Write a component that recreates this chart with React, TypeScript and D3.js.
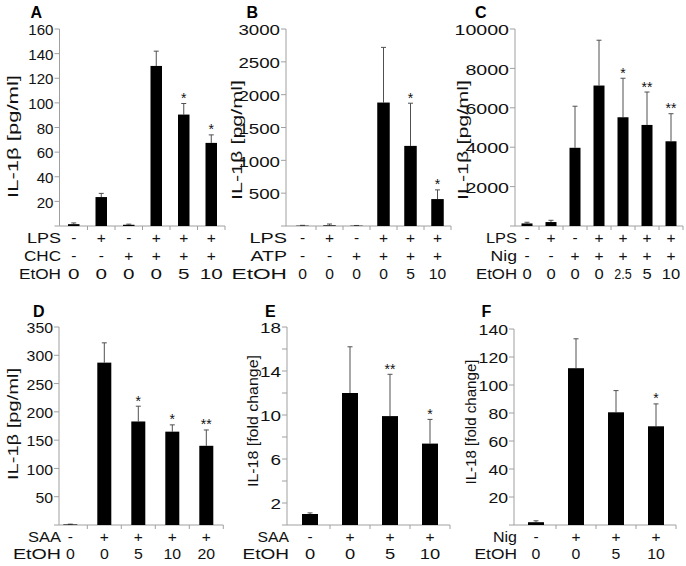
import React from "react";
import * as d3 from "d3";

// ---------- DATA ----------
const aTicks = [20, 40, 60, 80, 100, 120, 140, 160];
const aValues = [1.5, 23.5, 1, 130, 90.5, 67.5];
const aErrors = [1, 3, 0.5, 12, 9, 6.5];
const aStars = ["", "", "", "", "*", "*"];
const aRowNames = ["LPS", "CHC", "EtOH"];
const aLPS = ["-", "+", "-", "+", "+", "+"];
const aCHC = ["-", "-", "+", "+", "+", "+"];
const aEtOH = ["0", "0", "0", "0", "5", "10"];

const bTicks = [500, 1000, 1500, 2000, 2500, 3000];
const bValues = [5, 10, 5, 1880, 1220, 410];
const bErrors = [5, 20, 3, 840, 650, 140];
const bStars = ["", "", "", "", "*", "*"];
const bRowNames = ["LPS", "ATP", "EtOH"];
const bLPS = ["-", "+", "-", "+", "+", "+"];
const bATP = ["-", "-", "+", "+", "+", "+"];
const bEtOH = ["0", "0", "0", "0", "5", "10"];

const cTicks = [2000, 4000, 6000, 8000, 10000];
const cValues = [130, 200, 3970, 7130, 5520, 5130, 4300];
const cErrors = [60, 90, 2110, 2300, 1980, 1670, 1400];
const cStars = ["", "", "", "", "*", "**", "**"];
const cRowNames = ["LPS", "Nig", "EtOH"];
const cLPS = ["-", "+", "-", "+", "+", "+", "+"];
const cNig = ["-", "-", "+", "+", "+", "+", "+"];
const cEtOH = ["0", "0", "0", "0", "2.5", "5", "10"];

const dTicks = [50, 100, 150, 200, 250, 300, 350];
const dValues = [1, 287, 183, 165, 140];
const dErrors = [0.5, 35, 27, 12, 28];
const dStars = ["", "", "*", "*", "**"];
const dRowNames = ["SAA", "EtOH"];
const dSAA = ["-", "+", "+", "+", "+"];
const dEtOH = ["0", "0", "5", "10", "20"];

const eTicks = [2, 6, 10, 14, 18];
const eMinorTicks = [4, 8, 12, 16];
const eValues = [1, 12, 9.9, 7.4];
const eErrors = [0.1, 4.2, 3.8, 2.2];
const eStars = ["", "", "**", "*"];
const eRowNames = ["SAA", "EtOH"];
const eSAA = ["-", "+", "+", "+"];
const eEtOH = ["0", "0", "5", "10"];

const fTicks = [20, 40, 60, 80, 100, 120, 140];
const fValues = [2, 112, 80.5, 70.5];
const fErrors = [1, 21, 15.5, 16];
const fStars = ["", "", "", "*"];
const fRowNames = ["Nig", "EtOH"];
const fNig = ["-", "+", "+", "+"];
const fEtOH = ["0", "0", "5", "10"];

// ---------- STYLE ----------
const FONT = "'Liberation Sans', Arial, sans-serif";
const FS = 15.5;
const AXIS = "#a0a0a0";
const ERR = "#505050";

function digitLen(s: string, w: number) {
  const digits = s.replace(/[^0-9]/g, "").length;
  const dots = s.replace(/[^.]/g, "").length;
  if (dots) return (digits * 0.8 + dots * 0.3) * w;
  return digits * w;
}

type PanelProps = {
  letter: string;
  letterX: number;
  letterY: number;
  axisX: number;
  xRange: [number, number];
  yBottom: number;
  yTop: number;
  yMax: number;
  ticks: number[];
  minorTicks?: number[];
  tickDigitW: number;
  values: number[];
  errors: number[];
  stars: string[];
  barWidth: number;
  rowNames: string[];
  rowNameLens: number[];
  rowDigitW: number;
  rows: string[][];
  rowBaselines: number[];
  rowEndX: number;
  yLabel: string;
  yLabelLen: number;
  yLabelX: number;
  yLabelY: number;
};

function Panel(p: PanelProps) {
  const n = p.values.length;
  const x = d3.scaleBand<number>().domain(d3.range(n)).range(p.xRange).padding(0);
  const y = d3.scaleLinear().domain([0, p.yMax]).range([p.yBottom, p.yTop]);
  const step = x.step();
  const allTicks = [0, ...p.ticks, ...(p.minorTicks || [])];
  const cap = 2.5;
  return (
    <g>
      <text x={p.letterX} y={p.letterY} fontFamily={FONT} fontWeight="bold" fontSize={16} fill="#000">
        {p.letter}
      </text>
      {/* y axis */}
      <line x1={p.axisX} x2={p.axisX} y1={y(p.yMax)} y2={y(0)} stroke={AXIS} strokeWidth={1} />
      {allTicks.map((t, i) => (
        <line key={"t" + i} x1={p.axisX - 5} x2={p.axisX} y1={y(t)} y2={y(t)} stroke={AXIS} strokeWidth={1} />
      ))}
      {p.ticks.map((t, i) => (
        <text
          key={"l" + i}
          x={p.axisX - 6}
          y={y(t)}
          dy="0.4em"
          textAnchor="end"
          fontFamily={FONT}
          fontSize={FS}
          fill="#111"
          textLength={digitLen(String(t), p.tickDigitW)}
          lengthAdjust="spacingAndGlyphs"
        >
          {String(t)}
        </text>
      ))}
      {/* x axis */}
      <line x1={p.axisX} x2={p.xRange[1]} y1={y(0)} y2={y(0)} stroke={AXIS} strokeWidth={1} />
      {d3.range(1, n + 1).map((i) => {
        const bx = p.xRange[0] + i * step;
        return <line key={"xt" + i} x1={bx} x2={bx} y1={y(0)} y2={y(0) + 4} stroke={AXIS} strokeWidth={1} />;
      })}
      {/* bars */}
      {p.values.map((v, i) => {
        const cx = (x(i) as number) + step / 2;
        const top = y(v);
        const et = y(v + p.errors[i]);
        return (
          <g key={"b" + i}>
            <line x1={cx} x2={cx} y1={top} y2={et} stroke={ERR} strokeWidth={1} />
            <line x1={cx - cap} x2={cx + cap} y1={et} y2={et} stroke={ERR} strokeWidth={1} />
            <rect x={cx - p.barWidth / 2} y={top} width={p.barWidth} height={y(0) - top} fill="#000" />
            {p.stars[i] ? (
              <text x={cx} y={et - 0.5} textAnchor="middle" fontFamily={FONT} fontSize={14} fill="#111">
                {p.stars[i]}
              </text>
            ) : null}
          </g>
        );
      })}
      {/* y label */}
      <text
        transform={`translate(${p.yLabelX},${p.yLabelY}) rotate(-90)`}
        textAnchor="middle"
        fontFamily={FONT}
        fontSize={FS}
        fill="#111"
        textLength={p.yLabelLen}
        lengthAdjust="spacingAndGlyphs"
      >
        {p.yLabel}
      </text>
      {/* condition rows */}
      {p.rowNames.map((name, r) => (
        <g key={"r" + r}>
          <text
            x={p.rowEndX}
            y={p.rowBaselines[r]}
            textAnchor="end"
            fontFamily={FONT}
            fontSize={FS}
            fill="#111"
            textLength={p.rowNameLens[r]}
            lengthAdjust="spacingAndGlyphs"
          >
            {name}
          </text>
          {p.rows[r].map((s, i) => {
            const isNum = /[0-9]/.test(s);
            return (
              <text
                key={i}
                x={(x(i) as number) + step / 2}
                y={p.rowBaselines[r]}
                textAnchor="middle"
                fontFamily={FONT}
                fontSize={FS}
                fill="#111"
                textLength={isNum ? digitLen(s, p.rowDigitW) : undefined}
                lengthAdjust={isNum ? "spacingAndGlyphs" : undefined}
              >
                {s}
              </text>
            );
          })}
        </g>
      ))}
    </g>
  );
}

export default function App() {
  const topRows = [243.3, 261, 278.5];
  const botRows = [541.7, 559.3];
  return (
    <div style={{ position: "fixed", left: 0, top: 0, width: 686, height: 566, background: "#fff" }}>
      <svg width={686} height={566} viewBox="0 0 686 566" style={{ display: "block" }}>
        <rect width={686} height={566} fill="#fff" />
        <Panel
          letter="A" letterX={30.5} letterY={17.5}
          axisX={59.5} xRange={[60, 225]} yBottom={226} yTop={29} yMax={160}
          ticks={aTicks} tickDigitW={8.4} values={aValues} errors={aErrors} stars={aStars} barWidth={11.5}
          rowNames={aRowNames} rowNameLens={[34, 37, 42]} rowDigitW={11.5}
          rows={[aLPS, aCHC, aEtOH]} rowBaselines={topRows} rowEndX={61}
          yLabel="IL-1β [pg/ml]" yLabelLen={123} yLabelX={18} yLabelY={136.5}
        />
        <Panel
          letter="B" letterX={246.5} letterY={17.5}
          axisX={286} xRange={[289, 451]} yBottom={226} yTop={29} yMax={3000}
          ticks={bTicks} tickDigitW={10.4} values={bValues} errors={bErrors} stars={bStars} barWidth={12.5}
          rowNames={bRowNames} rowNameLens={[37.5, 36.5, 55.5]} rowDigitW={8.7}
          rows={[bLPS, bATP, bEtOH]} rowBaselines={topRows} rowEndX={287}
          yLabel="IL-1β [pg/ml]" yLabelLen={120} yLabelX={241.5} yLabelY={140}
        />
        <Panel
          letter="C" letterX={475} letterY={17.5}
          axisX={515} xRange={[515, 683]} yBottom={226} yTop={29} yMax={10000}
          ticks={cTicks} tickDigitW={10.9} values={cValues} errors={cErrors} stars={cStars} barWidth={11}
          rowNames={cRowNames} rowNameLens={[31, 26.5, 41]} rowDigitW={9.2}
          rows={[cLPS, cNig, cEtOH]} rowBaselines={topRows} rowEndX={517}
          yLabel="IL-1β [pg/ml]" yLabelLen={120} yLabelX={468} yLabelY={140}
        />
        <Panel
          letter="D" letterX={33} letterY={316.5}
          axisX={59} xRange={[53.3, 223.3]} yBottom={525} yTop={327} yMax={350}
          ticks={dTicks} tickDigitW={8.8} values={dValues} errors={dErrors} stars={dStars} barWidth={14}
          rowNames={dRowNames} rowNameLens={[33, 48]} rowDigitW={8.8}
          rows={[dSAA, dEtOH]} rowBaselines={botRows} rowEndX={61}
          yLabel="IL-1β [pg/ml]" yLabelLen={112} yLabelX={18} yLabelY={424}
        />
        <Panel
          letter="E" letterX={265} letterY={316.5}
          axisX={287} xRange={[290, 450]} yBottom={525} yTop={327} yMax={18}
          ticks={eTicks} minorTicks={eMinorTicks} tickDigitW={10.5} values={eValues} errors={eErrors} stars={eStars} barWidth={16}
          rowNames={eRowNames} rowNameLens={[31.5, 46.5]} rowDigitW={10.2}
          rows={[eSAA, eEtOH]} rowBaselines={botRows} rowEndX={289}
          yLabel="IL-18 [fold change]" yLabelLen={132} yLabelX={258} yLabelY={421}
        />
        <Panel
          letter="F" letterX={481.5} letterY={316.5}
          axisX={514} xRange={[516, 676]} yBottom={525} yTop={329} yMax={140}
          ticks={fTicks} tickDigitW={9.8} values={fValues} errors={fErrors} stars={fStars} barWidth={16}
          rowNames={fRowNames} rowNameLens={[24, 42.5]} rowDigitW={8.8}
          rows={[fNig, fEtOH]} rowBaselines={botRows} rowEndX={517}
          yLabel="IL-18 [fold change]" yLabelLen={125} yLabelX={476} yLabelY={422}
        />
      </svg>
    </div>
  );
}
